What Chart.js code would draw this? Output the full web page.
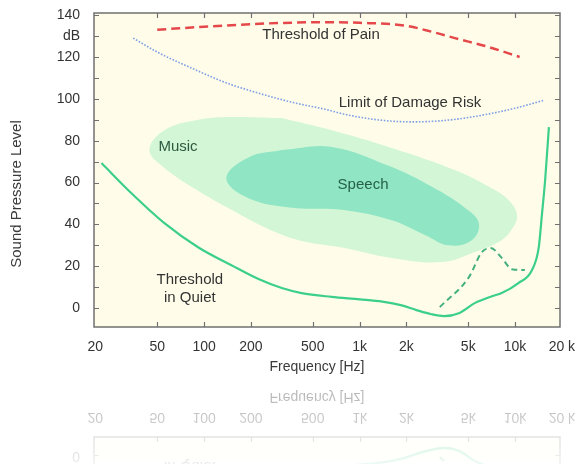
<!DOCTYPE html>
<html>
<head>
<meta charset="utf-8">
<script src="https://cdn.jsdelivr.net/npm/chart.js@4/dist/chart.umd.min.js"></script>
<style>
  html, body { margin: 0; background: #fff; }
  canvas { display: block; }
</style>
</head>
<body>
<canvas id="grafAudicion" width="583" height="464"></canvas>
<script>
// Frecuencias en Hz, niveles en dB
const ticksFrec     = [20, 50, 100, 200, 500, 1000, 2000, 5000, 10000, 20000];
const etiquetasFrec = ['20', '50', '100', '200', '500', '1k', '2k', '5k', '10k', '20 k'];
const ticksDb       = [0, 20, 40, 60, 80, 100, 120, 130, 140];

const musicaFrec = [316, 662, 1540, 4100, 6800, 9100, 10300, 9600, 8200, 5500, 3400, 1610, 770, 406, 245, 150, 92, 55.6, 44.5, 55.6, 92, 150, 316];
const musicaDb   = [90.8, 85, 77, 66, 58, 51.6, 44.4, 38, 32.5, 26.8, 22, 24, 29, 32.5, 38.7, 47, 56, 67, 75.5, 85, 90, 91.3, 90.8];

const hablaFrec = [316, 662, 1540, 2920, 4750, 5850, 5270, 3750, 2630, 1610, 768, 366, 193, 139, 193, 316];
const hablaDb   = [75.5, 77, 68, 58, 48, 40.6, 32.5, 30, 35, 42, 47, 48, 52.5, 62, 72, 75.5];

const dolorFrec = [50, 135, 300, 600, 1000, 1950, 3000, 4100, 6800, 10700];
const dolorDb   = [133, 135, 136.2, 136.6, 136.3, 135, 131.8, 129, 124.7, 120];

const riesgoFrec = [35, 51, 83, 135, 224, 366, 600, 850, 1500, 2270, 3300, 4750, 7000, 10000, 15500];
const riesgoDb   = [129, 122, 114.7, 108, 102.7, 98.4, 95, 92.2, 89.5, 89, 89.5, 90.8, 93, 95.5, 99.4];

const silencioFrec = [21.9, 34, 55.6, 92, 150, 224, 316, 424, 660, 1000, 1400, 1870, 2300, 2900, 3500, 4350, 5500, 7100, 8200, 10500, 12800, 14200, 14900, 15600, 16500];
const silencioDb   = [69.3, 55, 40.6, 29, 20.5, 13.9, 9.6, 7.2, 5.4, 4.2, 3.1, 1.3, -0.8, -2.9, -3.8, -2.4, 2.4, 5.7, 7.2, 12, 18, 29, 45, 61, 86.5];

const silencio2Frec = [3280, 5050, 6120, 6980, 8230, 9550, 11560];
const silencio2Db   = [0.5, 14.8, 26.8, 28.7, 23.9, 18.6, 18.2];

const puntos = (fs, dbs) => fs.map((f, i) => ({ x: f, y: dbs[i] }));
const FUENTE = "'Liberation Sans', Arial, sans-serif";

// Marco, ticks hacia adentro, textos y reflejo inferior
const decorado = {
  id: 'decorado',
  beforeDraw(chart) {
    const { ctx, chartArea: a } = chart;
    ctx.save();
    ctx.fillStyle = '#fffdea';
    ctx.fillRect(a.left, a.top, a.right - a.left, a.bottom - a.top);
    ctx.restore();
  },
  afterDraw(chart) {
    const { ctx, chartArea: a, scales: { x, y } } = chart;
    ctx.save();
    ctx.strokeStyle = '#707070';
    ctx.lineWidth = 1.5;
    ctx.strokeRect(a.left, a.top, a.right - a.left, a.bottom - a.top);

    ctx.lineWidth = 1.2;
    ctx.beginPath();
    ticksFrec.slice(1, -1).forEach(f => {
      const px = Math.round(x.getPixelForValue(f)) + 0.5;
      ctx.moveTo(px, a.bottom); ctx.lineTo(px, a.bottom - 5);
      ctx.moveTo(px, a.top);    ctx.lineTo(px, a.top + 5);
    });
    for (let db = 0; db <= 140; db += 10) {
      const py = Math.round(y.getPixelForValue(db)) + 0.5;
      ctx.moveTo(a.left, py);  ctx.lineTo(a.left + 5, py);
      ctx.moveTo(a.right, py); ctx.lineTo(a.right - 5, py);
    }
    ctx.stroke();

    const textos = [
      { t: 'Threshold of Pain',    f: 565,  db: 130.4, c: '#333' },
      { t: 'Limit of Damage Risk', f: 2110, db: 98,    c: '#333' },
      { t: 'Music',                f: 68,   db: 77,    c: '#2d5a40' },
      { t: 'Speech',               f: 1053, db: 58.8,  c: '#25604a' },
      { t: 'Threshold',            f: 81,   db: 13.4,  c: '#333' },
      { t: 'in Quiet',             f: 81,   db: 4.8,   c: '#333' },
    ];
    ctx.font = `15px ${FUENTE}`;
    ctx.textAlign = 'center';
    ctx.textBaseline = 'middle';
    textos.forEach(tx => {
      ctx.fillStyle = tx.c;
      ctx.fillText(tx.t, x.getPixelForValue(tx.f), y.getPixelForValue(tx.db));
    });

    ctx.fillStyle = '#3a3a3a';
    ctx.font = `14px ${FUENTE}`;
    ctx.fillText('Frequency [Hz]', 317, 367);
    ctx.translate(17, 194);
    ctx.rotate(-Math.PI / 2);
    ctx.font = `15px ${FUENTE}`;
    ctx.fillText('Sound Pressure Level', 0, 0);
    ctx.restore();

    // reflejo bajo el eje x
    const lienzo = chart.canvas;
    const espejo = 382;
    const alto = lienzo.height - espejo;
    const tmp = document.createElement('canvas');
    tmp.width = lienzo.width; tmp.height = alto;
    const t = tmp.getContext('2d');
    t.save();
    t.filter = 'blur(0.6px)';
    t.translate(0, alto);
    t.scale(1, -1);
    t.drawImage(lienzo, 0, espejo - alto, lienzo.width, alto, 0, 0, lienzo.width, alto);
    t.restore();
    t.globalCompositeOperation = 'destination-in';
    const grad = t.createLinearGradient(0, 0, 0, alto);
    grad.addColorStop(0, 'rgba(0,0,0,0.4)');
    grad.addColorStop(1, 'rgba(0,0,0,0.1)');
    t.fillStyle = grad;
    t.fillRect(0, 0, tmp.width, alto);
    ctx.drawImage(tmp, 0, espejo);
  }
};

const curva = { showLine: true, pointRadius: 0, fill: false, cubicInterpolationMode: 'monotone' };
const mancha = { showLine: true, pointRadius: 0, tension: 0.4, fill: 'shape', borderWidth: 0 };

// el relleno se pinta del último al primero: Speech va antes que Music
new Chart(document.getElementById('grafAudicion'), {
  type: 'scatter',
  data: {
    datasets: [
      { ...mancha, label: 'Speech', data: puntos(hablaFrec, hablaDb),   backgroundColor: '#90e6c4' },
      { ...mancha, label: 'Music',  data: puntos(musicaFrec, musicaDb), backgroundColor: '#d3f6d6' },
      { ...curva, label: 'Threshold of Pain', data: puntos(dolorFrec, dolorDb), borderColor: '#e5484a', borderWidth: 2.5, borderDash: [9, 5] },
      { ...curva, label: 'Limit of Damage Risk', data: puntos(riesgoFrec, riesgoDb), borderColor: '#7d9fe4', borderWidth: 1.6, borderDash: [1.6, 1.6] },
      { ...curva, label: 'Threshold in Quiet', data: puntos(silencioFrec, silencioDb), borderColor: '#3ccf8c', borderWidth: 2.2 },
      { ...curva, label: 'Threshold in Quiet (2)', data: puntos(silencio2Frec, silencio2Db), borderColor: '#45b07f', borderWidth: 2, borderDash: [6, 4] },
    ]
  },
  options: {
    responsive: false, animation: false,
    layout: { padding: { top: 13, right: 23, bottom: 80, left: 0 } },
    plugins: { legend: { display: false }, tooltip: { enabled: false } },
    scales: {
      x: {
        type: 'logarithmic', min: 19.6, max: 19450,
        afterFit: s => { s.height = 57; s.paddingLeft = 0; s.paddingRight = 0; },
        afterBuildTicks: s => { s.ticks = ticksFrec.map(v => ({ value: v })); },
        grid: { display: false, drawTicks: false }, border: { display: false },
        ticks: {
          autoSkip: false, maxRotation: 0, padding: 12, color: '#333',
          font: { family: FUENTE, size: 14 },
          callback: v => etiquetasFrec[ticksFrec.indexOf(v)] ?? ''
        }
      },
      y: {
        min: -9, max: 141,
        afterFit: s => { s.width = 94; s.paddingTop = 0; s.paddingBottom = 0; },
        afterBuildTicks: s => { s.ticks = ticksDb.map(v => ({ value: v })); },
        grid: { display: false, drawTicks: false }, border: { display: false },
        ticks: {
          padding: 14, color: '#333',
          font: { family: FUENTE, size: 14 },
          callback: v => v === 130 ? 'dB' : v
        }
      }
    }
  },
  plugins: [decorado]
});
</script>
</body>
</html>
